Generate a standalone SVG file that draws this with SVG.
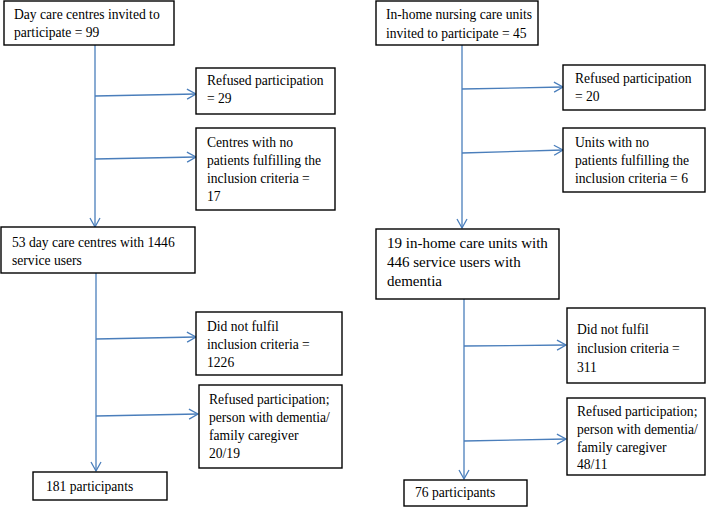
<svg xmlns="http://www.w3.org/2000/svg" width="710" height="507" viewBox="0 0 710 507">
<style>
.box{fill:#fff;stroke:#000;stroke-width:1.4}
.t{font-family:"Liberation Serif","Times New Roman",serif;font-size:13.6px;fill:#000}
.tb{font-family:"Liberation Serif","Times New Roman",serif;font-size:15px;fill:#000}
.c{stroke:#4a7ebb;stroke-width:1.3;fill:none}
</style>
<defs>
<marker id="ah" markerWidth="12" markerHeight="12" refX="10" refY="6" orient="auto" markerUnits="userSpaceOnUse">
<path d="M1,1 L10,6 L1,11" fill="none" stroke="#4a7ebb" stroke-width="1.3"/>
</marker>
</defs>
<g id="connectors">
<line class="c" x1="95" y1="45" x2="95" y2="227" marker-end="url(#ah)"/>
<line class="c" x1="95" y1="96" x2="196" y2="94" marker-end="url(#ah)"/>
<line class="c" x1="95" y1="159" x2="196" y2="157" marker-end="url(#ah)"/>
<line class="c" x1="96" y1="273" x2="96" y2="471" marker-end="url(#ah)"/>
<line class="c" x1="96" y1="339" x2="196" y2="337" marker-end="url(#ah)"/>
<line class="c" x1="96" y1="416" x2="198" y2="414" marker-end="url(#ah)"/>
<line class="c" x1="462" y1="45" x2="462" y2="228" marker-end="url(#ah)"/>
<line class="c" x1="462" y1="89" x2="563" y2="87" marker-end="url(#ah)"/>
<line class="c" x1="462" y1="153" x2="563" y2="150" marker-end="url(#ah)"/>
<line class="c" x1="464" y1="299" x2="464" y2="479" marker-end="url(#ah)"/>
<line class="c" x1="464" y1="346" x2="566" y2="345" marker-end="url(#ah)"/>
<line class="c" x1="464" y1="441" x2="566" y2="439" marker-end="url(#ah)"/>
</g>
<g id="n1"><rect class="box" x="4" y="1" width="170" height="44"/>
<text class="t" x="14" y="19">Day care centres invited to</text><text class="t" x="14" y="37">participate = 99</text></g>
<g id="n2"><rect class="box" x="196" y="68" width="139" height="46"/>
<text class="t" x="207" y="85">Refused participation</text><text class="t" x="207" y="103">= 29</text></g>
<g id="n3"><rect class="box" x="196" y="128" width="139" height="82"/>
<text class="t" x="207" y="147">Centres with no</text><text class="t" x="207" y="165">patients fulfilling the</text><text class="t" x="207" y="183">inclusion criteria =</text><text class="t" x="207" y="201">17</text></g>
<g id="n4"><rect class="box" x="1" y="227" width="194" height="46"/>
<text class="t" x="12" y="247">53 day care centres with 1446</text><text class="t" x="12" y="265">service users</text></g>
<g id="n5"><rect class="box" x="196" y="312" width="146" height="63"/>
<text class="t" x="207" y="331">Did not fulfil</text><text class="t" x="207" y="349">inclusion criteria =</text><text class="t" x="207" y="367">1226</text></g>
<g id="n6"><rect class="box" x="199" y="385" width="143" height="83"/>
<text class="t" x="209" y="404">Refused participation;</text><text class="t" x="209" y="422">person with dementia/</text><text class="t" x="209" y="440">family caregiver</text><text class="t" x="209" y="458">20/19</text></g>
<g id="n7"><rect class="box" x="33" y="472" width="134" height="28"/>
<text class="t" x="46" y="491">181 participants</text></g>
<g id="n8"><rect class="box" x="376" y="1" width="162" height="44"/>
<text class="t" x="386" y="19">In-home nursing care units</text><text class="t" x="386" y="38">invited to participate = 45</text></g>
<g id="n9"><rect class="box" x="563" y="65" width="142" height="45"/>
<text class="t" x="575" y="83">Refused participation</text><text class="t" x="575" y="101">= 20</text></g>
<g id="n10"><rect class="box" x="563" y="128" width="142" height="64"/>
<text class="t" x="575" y="147">Units with no</text><text class="t" x="575" y="165">patients fulfilling the</text><text class="t" x="575" y="183">inclusion criteria = 6</text></g>
<g id="n11"><rect class="box" x="376" y="229" width="183" height="70"/>
<text class="tb" x="387" y="248">19 in-home care units with</text><text class="tb" x="387" y="267">446 service users with</text><text class="tb" x="387" y="286">dementia</text></g>
<g id="n12"><rect class="box" x="567" y="308" width="138" height="75"/>
<text class="t" x="577" y="334">Did not fulfil</text><text class="t" x="577" y="353">inclusion criteria =</text><text class="t" x="577" y="372">311</text></g>
<g id="n13"><rect class="box" x="567" y="398" width="138" height="77"/>
<text class="t" x="577" y="416">Refused participation;</text><text class="t" x="577" y="434">person with dementia/</text><text class="t" x="577" y="452">family caregiver</text><text class="t" x="577" y="469">48/11</text></g>
<g id="n14"><rect class="box" x="404" y="480" width="123" height="26"/>
<text class="t" x="415" y="497">76 participants</text></g>
</svg>
